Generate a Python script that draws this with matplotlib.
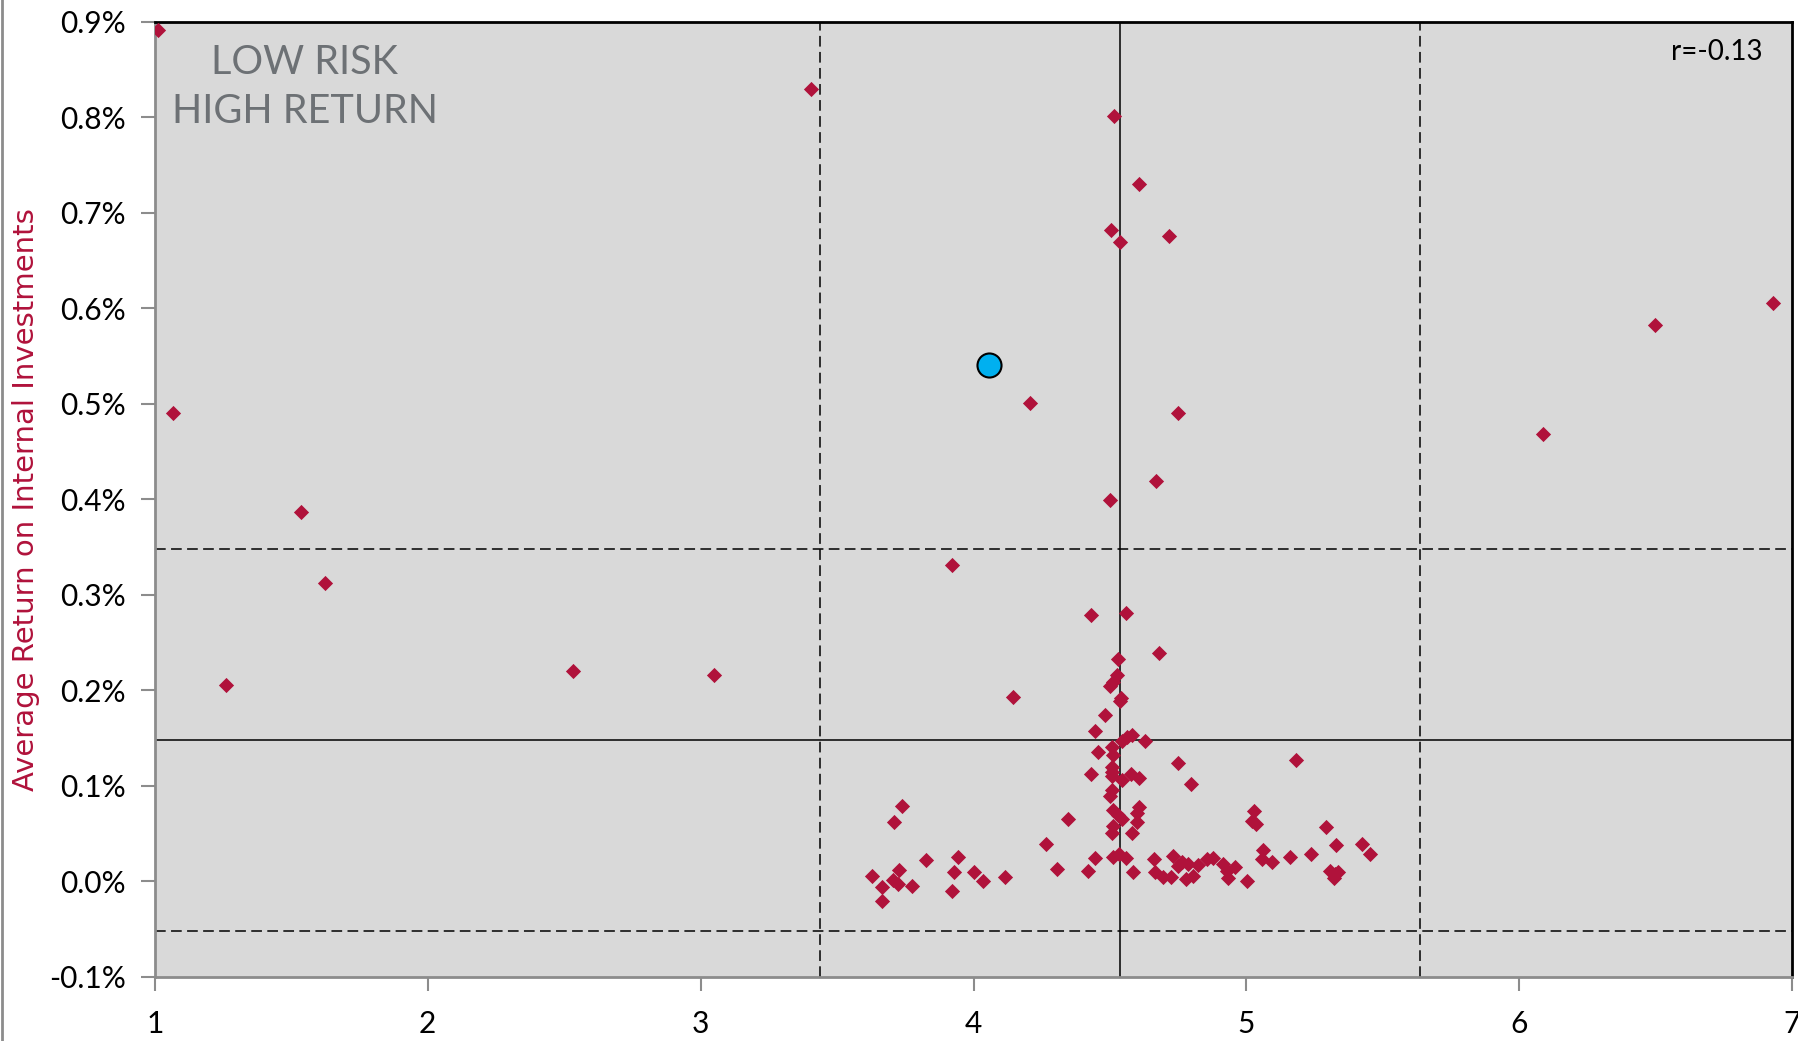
import matplotlib
matplotlib.use("Agg")
import matplotlib.pyplot as plt
from matplotlib.ticker import FuncFormatter
from matplotlib.lines import Line2D

# risk score vs average return (%), one point per investment
risk = [
    1.013, 1.067, 1.26, 1.534, 1.622, 2.534, 3.050, 3.403, 3.921, 4.206,
    4.145, 4.513, 4.605, 4.504, 4.538, 4.718, 4.748, 4.500, 4.668, 6.088,
    6.496, 6.929,
    4.431, 4.558, 4.680, 4.531, 4.525, 4.512, 4.500, 4.541, 4.538, 4.482,
    4.446, 4.543, 4.561, 4.580, 4.628, 4.455, 4.506, 4.510, 4.751, 4.431,
    4.506, 4.506, 4.506, 4.543, 4.576, 4.606, 4.797, 5.183, 4.506, 4.500,
    4.607, 4.598, 4.600, 4.512, 4.531, 4.543, 4.512, 4.506, 4.582, 4.347,
    5.028, 5.019, 5.035, 5.290, 4.267, 5.328, 5.422, 5.454, 5.060, 5.056,
    5.094, 5.160, 5.238, 4.305, 4.421, 4.445, 4.512, 4.534, 4.559, 4.585,
    4.662, 4.732, 4.763, 4.787, 4.750, 4.824, 4.854, 4.879, 4.915, 4.958,
    4.928, 4.934, 5.003, 4.665, 4.696, 4.723, 4.778, 4.806, 5.306, 5.337,
    5.320, 5.325,
    3.737, 3.709, 3.629, 3.666, 3.666, 3.704, 3.725, 3.727, 3.775, 3.826,
    3.942, 3.930, 3.920, 4.003, 4.036, 4.117,
]
avg_return = [
    0.892, 0.491, 0.206, 0.387, 0.312, 0.220, 0.216, 0.830, 0.331, 0.501,
    0.193, 0.801, 0.730, 0.682, 0.670, 0.676, 0.490, 0.399, 0.419, 0.468,
    0.583, 0.606,
    0.279, 0.281, 0.239, 0.233, 0.216, 0.209, 0.205, 0.192, 0.189, 0.174,
    0.158, 0.147, 0.151, 0.153, 0.147, 0.136, 0.141, 0.132, 0.124, 0.113,
    0.120, 0.115, 0.110, 0.106, 0.113, 0.108, 0.102, 0.127, 0.096, 0.089,
    0.078, 0.072, 0.062, 0.075, 0.070, 0.065, 0.058, 0.051, 0.051, 0.065,
    0.074, 0.063, 0.060, 0.057, 0.039, 0.038, 0.039, 0.029, 0.033, 0.024,
    0.020, 0.026, 0.029, 0.013, 0.011, 0.025, 0.026, 0.029, 0.025, 0.010,
    0.023, 0.027, 0.020, 0.018, 0.016, 0.017, 0.023, 0.025, 0.018, 0.015,
    0.011, 0.004, 0.000, 0.010, 0.005, 0.005, 0.003, 0.006, 0.011, 0.010,
    0.004, 0.008,
    0.079, 0.062, 0.006, -0.006, -0.020, 0.002, -0.003, 0.012, -0.005, 0.022,
    0.026, 0.010, -0.010, 0.010, 0.000, 0.005,
]

# highlighted investment
focus_risk = 4.055
focus_return = 0.541

# mean and +/- one standard deviation lines
risk_mean = 4.537
risk_sd = 1.099
return_mean = 0.148
return_sd = 0.200

corr_label = "r=-0.13"
quadrant_label = "LOW RISK\nHIGH RETURN"

x_ticks = [1, 2, 3, 4, 5, 6, 7]
y_ticks = [-0.1, 0.0, 0.1, 0.2, 0.3, 0.4, 0.5, 0.6, 0.7, 0.8, 0.9]

red = "#b0123b"
narrow = ["Lato", "DejaVu Sans"]

fig = plt.figure(figsize=(17.98, 10.41), dpi=100)
ax = fig.add_axes([0.0861, 0.0615, 0.9107, 0.9175])
ax.set_facecolor("#d9d9d9")

ax.scatter(risk, avg_return, marker="D", s=60, color=red, linewidths=0, zorder=3)
ax.scatter([focus_risk], [focus_return], marker="o", s=300, color="#00b0f0",
           edgecolors="black", linewidths=1.5, zorder=4)

dash = (0, (7, 3.5))
ax.axvline(risk_mean, color="black", lw=1.1, zorder=2)
ax.axvline(risk_mean - risk_sd, color="black", lw=1.1, ls=dash, zorder=2)
ax.axvline(risk_mean + risk_sd, color="black", lw=1.1, ls=dash, zorder=2)
ax.axhline(return_mean, color="black", lw=1.1, zorder=2)
ax.axhline(return_mean - return_sd, color="black", lw=1.1, ls=dash, zorder=2)
ax.axhline(return_mean + return_sd, color="black", lw=1.1, ls=dash, zorder=2)

ax.set_xlim(1, 7)
ax.set_ylim(-0.1, 0.9)
ax.set_xticks(x_ticks)
ax.set_yticks(y_ticks)
ax.yaxis.set_major_formatter(FuncFormatter(lambda v, p: "%.1f%%" % v))

for side in ["top", "right"]:
    ax.spines[side].set_color("black")
    ax.spines[side].set_linewidth(2)
for side in ["left", "bottom"]:
    ax.spines[side].set_color("#8c8c8c")
    ax.spines[side].set_linewidth(2)

ax.tick_params(axis="both", direction="out", length=10, width=1.5,
               color="#8c8c8c", labelsize=21.5)
ax.tick_params(axis="y", pad=11)
ax.tick_params(axis="x", pad=14)
for lab in ax.get_xticklabels() + ax.get_yticklabels():
    lab.set_family(narrow)

ax.set_ylabel("Average Return on Internal Investments", color=red,
              fontsize=21, family="DejaVu Sans")
ax.yaxis.set_label_coords(-0.07, 0.5)

ax.text(1.55, 0.832, quadrant_label, ha="center", va="center",
        multialignment="center", color="#6d7175", fontsize=28.5,
        family=narrow, linespacing=1.38)
ax.text(6.89, 0.868, corr_label, ha="right", va="center", color="black",
        fontsize=20, family=narrow)

# thin grey frame line at the left edge of the picture
fig.add_artist(Line2D([0.0012, 0.0012], [0, 1], color="#8c8c8c", lw=2,
                      transform=fig.transFigure))

fig.savefig("out.png", dpi=100)
